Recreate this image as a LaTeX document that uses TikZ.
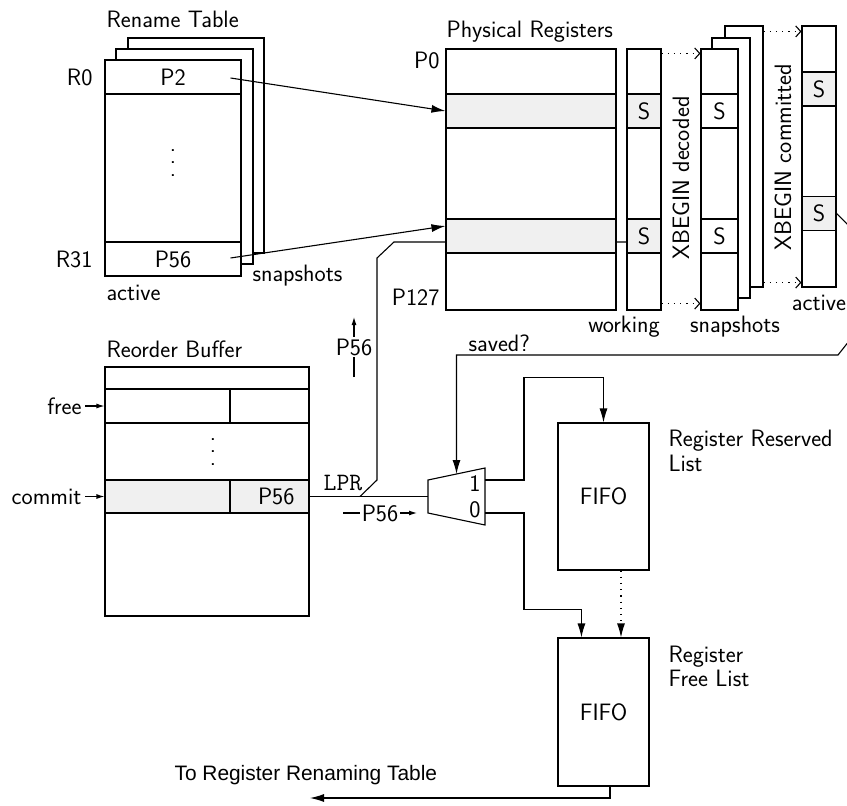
\documentclass[tikz,border=0pt]{standalone}
\usepackage{fontspec}
\newfontfamily\arialfont{Liberation Sans}
\usepackage{tikz}
\usetikzlibrary{arrows.meta,calc,backgrounds}
\definecolor{shade}{RGB}{240,240,240}

\begin{document}
\begin{tikzpicture}[x=1pt, y=-1pt, line width=1.1pt,
    font=\sffamily\fontsize{23.7}{24.5}\selectfont,
    >={Latex[length=14pt,width=8pt]},
    snap/.style={draw, fill=white, inner sep=0pt},
    cell/.style={snap, minimum height=34pt},
    sel/.style={cell, fill=shade},
    lbl/.style={inner sep=0pt},
    vdots/.style={lbl, align=center, font=\sffamily\fontsize{23.7}{12.5}\selectfont},
    tick/.style={-{Latex[length=8pt,width=5pt]}},
    snapcopy/.style={dash pattern=on 1.2pt off 5pt, -{Straight Barb[length=5pt,width=11pt]}},
    descr/.style={fill=white,inner sep=2pt} ]
  \useasboundingbox (0,0) rectangle (847,806);
  \begin{scope}
  \clip (0,0) rectangle (847,806);

  % rename table with its snapshots
  \node[snap, minimum width=136pt, minimum height=215pt] (rt3) at (196,145.5) {};
  \node[snap, minimum width=137pt, minimum height=215pt] (rt2) at (184.5,156.5) {};
  \node[snap, minimum width=136pt, minimum height=216pt] (rt) at (173,168) {};
  \node[vdots] (rt-dots) at (173,163) {.\\.\\.};
  \node[cell, minimum width=136pt] (rt-r0) at (173,77) {P2};
  \node[cell, minimum width=136pt] (rt-r31) at (173,259) {P56};
  \node[lbl, anchor=west] (rt-title) at (106,19) {Rename Table};
  \node[lbl, anchor=east] (rt-l0) at (93,77) {R0};
  \node[lbl, anchor=east] (rt-l31) at (93,259) {R31};
  \node[lbl, anchor=west] (rt-act) at (106,293) {active};
  \node[lbl, anchor=west] (rt-snap) at (252,276) {snapshots};

  % physical registers, working bits, snapshots
  \node[snap, minimum width=170pt, minimum height=261pt] (pr) at (531,179.5) {};
  \node[sel, minimum width=170pt] (pr-r1) at (531,111) {};
  \node[sel, minimum width=170pt] (pr-r2) at (531,236) {};
  \node[lbl, anchor=west] (pr-title) at (446,32) {Physical Registers};
  \node[lbl, anchor=east] (pr-l0) at (440,60) {P0};
  \node[lbl, anchor=east] (pr-l127) at (440,297) {P127};

  \node[snap, minimum width=34pt, minimum height=261pt] (wk) at (644,179.5) {};
  \node[sel, minimum width=34pt] (wk-s1) at (644,111) {S};
  \node[sel, minimum width=34pt] (wk-s2) at (644,236) {S};
  \node[lbl] (wk-l) at (624,327) {working};

  \node[snap, minimum width=38pt, minimum height=261pt] (sn3) at (744,156.5) {};
  \node[snap, minimum width=38pt, minimum height=260pt] (sn2) at (731,168) {};
  \node[snap, minimum width=37pt, minimum height=261pt] (sn1) at (719.5,179.5) {};
  \node[cell, minimum width=37pt] (sn1-s1) at (719.5,111) {S};
  \node[cell, minimum width=37pt] (sn1-s2) at (719.5,236) {S};
  \node[lbl] (sn-l) at (735,327) {snapshots};

  \node[snap, minimum width=34pt, minimum height=261pt] (ac) at (819,156.5) {};
  \node[sel, minimum width=34pt] (ac-s1) at (819,89) {S};
  \node[sel, minimum width=34pt] (ac-s2) at (819,213.5) {S};
  \node[lbl] (ac-l) at (819,303) {active};

  \node[lbl, rotate=90] (dec) at (681,178) {XBEGIN decoded};
  \node[lbl, rotate=90] (com) at (783,157) {XBEGIN committed};

  \draw[snapcopy] ($(wk.north east)+(0,5)$) -- ($(sn1.north west)+(0,5)$);
  \draw[snapcopy] ($(wk.south east)+(0,-7)$) -- ($(sn1.south west)+(0,-7)$);
  \draw[snapcopy] ($(sn3.north east)+(0,6)$) -- ($(ac.north west)+(0,6)$);
  \draw[snapcopy] ($(sn3.south east)+(0,-5)$) -- ($(ac.south west)+(0,-5)$);

  \draw[->] ($(rt-r0.east)+(-11,1)$) -- (pr-r1.west);
  \draw[->] ($(rt-r31.east)+(-11,-1)$) -- ($(pr-r2.west)+(0,-10)$);

  % reorder buffer
  \node[snap, minimum width=204pt, minimum height=249pt] (rob) at (207,491.5) {};
  \node[cell, minimum width=125pt] (rob-f1) at (167.5,406) {};
  \node[cell, minimum width=79pt] (rob-f2) at (269.5,406) {};
  \node[vdots] (rob-dots) at (213,452) {.\\.\\.};
  \node[sel, minimum width=125pt, minimum height=33pt] (rob-c1) at (167.5,496.5) {};
  \node[sel, minimum width=79pt, minimum height=33pt, text width=50pt, align=right] (rob-c2) at (269.5,496.5) {P56};
  \node[lbl, anchor=west] (rob-title) at (106,349) {Reorder Buffer};
  \node[lbl, anchor=east] (free) at (82,406) {free};
  \node[lbl, anchor=east] (commit) at (82,496.5) {commit};
  \draw[tick, shorten <=3pt] (free) -- (rob-f1);
  \draw[tick, shorten <=3pt] (commit) -- (rob-c1);

  % multiplexer
  \coordinate (mux-tl) at (428,480);
  \coordinate (mux-tr) at (485,468);
  \coordinate (mux-br) at (485,525);
  \coordinate (mux-bl) at (428,513);
  \coordinate (mux-in) at (428,496.5);
  \coordinate (mux-o1) at (485,480);
  \coordinate (mux-o0) at (485,513);
  \coordinate (mux-sel) at ($(mux-tl)!0.5!(mux-tr)$);
  \draw[fill=white] (mux-tl) -- (mux-tr) -- (mux-br) -- (mux-bl) -- cycle;
  \node[lbl] (mux-1) at (475,484) {1};
  \node[lbl] (mux-0) at (475,510) {0};

  \draw (rob-c2) -- (mux-in);
  %LPR goes behind the register file
  \coordinate (lpr) at (360,496.5);
  \coordinate (lpr-top) at (394,242);
  \begin{scope}[on background layer]
    \draw[line width=1.1pt, black] (lpr) -- (377,480) -- (377,258) -- (lpr-top) -- (lpr-top -| wk-s2.west);
  \end{scope}
  \node[lbl, font=\ttfamily\fontsize{25}{28}\selectfont] (lpr-l) at (343,483) {LPR};

  \coordinate (up-a) at (354,377);
  \coordinate (up-b) at (354,317);
  \draw[tick] (up-a) -- (up-b) node[midway, descr] (up-l) {P56};
  \coordinate (rt-a) at (343,513);
  \coordinate (rt-b) at (417,513);
  \draw[tick] (rt-a) -- (rt-b) node[midway, descr] (rt-l) {P56};

  % saved? comes round from the committed snapshot
  \coordinate (sv-a) at (857,234);
  \coordinate (sv-b) at (857,331);
  \coordinate (sv-c) at (838,355);
  \draw[->] (ac-s2.east) -- (sv-a) -- (sv-b) -- (sv-c) -| (mux-sel);
  \node[lbl, anchor=west] (saved) at (468,343) {saved?};

  % free lists
  \node[snap, minimum width=91pt, minimum height=147pt] (rsv) at (603.5,496.5) {FIFO};
  \node[snap, minimum width=91pt, minimum height=148pt] (fre) at (603.5,712) {FIFO};
  \node[lbl, anchor=west, align=left] (rsv-l) at (668,451) {Register Reserved\\List};
  \node[lbl, anchor=west, align=left] (fre-l) at (668,666.5) {Register\\Free List};

  \draw[->] (mux-o1) -- ++(39,0) |- ($(rsv.north)+(0,-45)$) -- (rsv.north);
  \draw[->] (mux-o0) -- ++(39,0) |- ($(fre.north west)+(24,-28)$) -- ($(fre.north west)+(24,0)$);
  \draw[dash pattern=on 1.2pt off 5pt, ->] ($(rsv.south)+(17.5,0)$) -- ($(fre.north)+(17.5,0)$);

  \coordinate (ren-tip) at (310,798);
  \draw[->] ($(fre.south)+(6.5,0)$) |- (ren-tip);
  \node[lbl, anchor=west, font=\arialfont\fontsize{20.9}{24}\selectfont] (ren-l) at (174,775) {To Register Renaming Table};
  \end{scope}
\end{tikzpicture}
\end{document}
